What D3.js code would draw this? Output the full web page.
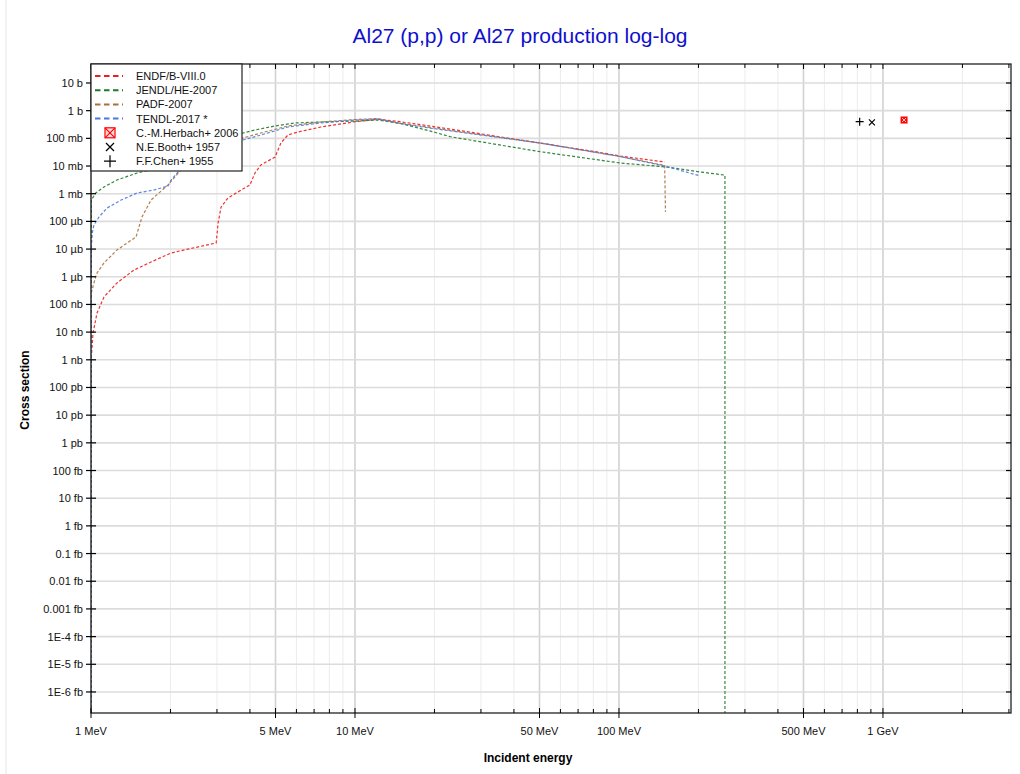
<!DOCTYPE html>
<html><head><meta charset="utf-8">
<script src="https://cdn.jsdelivr.net/npm/d3@7"></script>
<style>body{margin:0;background:#fff;} text{font-family:Arial,"Liberation Sans",sans-serif;}</style>
</head><body><svg id="c" width="1020" height="774"></svg>
<script>
const title = "Al27 (p,p) or Al27 production log-log";
const xTitle = "Incident energy";
const yTitle = "Cross section";
const xTickValues = [1,5,10,50,100,500,1000];
const xTickLabels = ["1 MeV","5 MeV","10 MeV","50 MeV","100 MeV","500 MeV","1 GeV"];
const yTickExponents = [1,0,-1,-2,-3,-4,-5,-6,-7,-8,-9,-10,-11,-12,-13,-14,-15,-16,-17,-18,-19,-20,-21];
const yTickLabels = ["10 b","1 b","100 mb","10 mb","1 mb","100 µb","10 µb","1 µb","100 nb","10 nb","1 nb","100 pb","10 pb","1 pb","100 fb","10 fb","1 fb","0.1 fb","0.01 fb","0.001 fb","1E-4 fb","1E-5 fb","1E-6 fb"];

// [energy MeV, cross section b]  (0 = below axis / threshold)
const endf = [[1.0,0],[1.003,1.26e-9],[1.018,9.3e-9],[1.054,4.9e-8],[1.12,1.86e-7],[1.254,5.96e-7],[1.455,1.75e-6],[1.687,3.4e-6],[2.01,7.2e-6],[2.33,1.0e-5],[2.98,1.66e-5],[3.03,8.7e-5],[3.11,3.3e-4],[3.30,7.0e-4],[3.60,1.15e-3],[4.0,2.07e-3],[4.18,5.6e-3],[4.40,0.0109],[4.98,0.0212],[5.24,0.068],[5.57,0.132],[6.08,0.170],[7.43,0.257],[10,0.40],[12.2,0.49],[14.8,0.40],[19.7,0.27],[50.2,0.068],[84.7,0.031],[100.9,0.023],[149,0.014]];
const jendl = [[1.0,0],[1.003,5.9e-4],[1.042,1.06e-3],[1.12,1.75e-3],[1.254,3.13e-3],[1.494,5.6e-3],[1.673,7.2e-3],[2.0,0.011],[2.5,0.035],[3.0,0.075],[3.76,0.156],[4.18,0.20],[4.98,0.28],[5.93,0.359],[7.43,0.39],[10,0.42],[12.2,0.46],[14.8,0.35],[19.7,0.174],[22.9,0.115],[50.2,0.033],[100.9,0.0129],[152,9.2e-3],[203,6.1e-3],[252,4.7e-3],[252,0]];
const padf = [[1.0,0],[1.003,2.6e-7],[1.026,6.0e-7],[1.054,1.37e-6],[1.12,3.14e-6],[1.254,9.3e-6],[1.481,2.73e-5],[1.52,6.3e-5],[1.56,1.44e-4],[1.687,5.9e-4],[1.957,2.07e-3],[2.19,7.2e-3],[2.6,0.025],[3.1,0.055],[3.76,0.103],[4.40,0.156],[5.57,0.28],[7.43,0.39],[10,0.48],[12.2,0.52],[14.8,0.35],[19.7,0.24],[50.2,0.068],[100.9,0.0221],[149,0.0105],[150,2.2e-4]];
const tendl = [[1.0,0],[1.003,1.19e-5],[1.011,3.8e-5],[1.026,7.4e-5],[1.072,1.44e-4],[1.15,3.05e-4],[1.30,5.9e-4],[1.494,1.06e-3],[1.733,1.36e-3],[1.957,1.9e-3],[2.01,3.1e-3],[2.136,6.1e-3],[2.6,0.02],[3.1,0.045],[3.76,0.087],[4.40,0.132],[5.57,0.257],[7.43,0.359],[10,0.46],[12.2,0.50],[14.8,0.344],[19.7,0.227],[50.2,0.068],[100.9,0.0221],[149,0.0100],[203,4.4e-3]];
const herbach = [[1202,0.46]];
const booth = [[908,0.38]];
const chen = [[816,0.40]];

const seriesNames = ["ENDF/B-VIII.0","JENDL/HE-2007","PADF-2007","TENDL-2017 *"];
const seriesColors = ["#ee1c1c","#1e7a2a","#a6733f","#4a78e0"];
const pointNames = ["C.-M.Herbach+ 2006","N.E.Booth+ 1957","F.F.Chen+ 1955"];

const svg = d3.select("#c");
const L=91, T=64, R=1011, B=713;
const x = d3.scaleLog().domain([1, Math.pow(10,3.485)]).range([L,R]);
const y = d3.scaleLog().domain([Math.pow(10,-21.76), Math.pow(10,1.686)]).range([B,T]);
const yy = v => v>0 ? y(v) : B+20;

svg.append("rect").attr("x",6).attr("y",-2).attr("width",1030).attr("height",780).attr("fill","#fff").attr("stroke","#e6e6e6");

// grid
const minorX = [];
[1,10,100,1000].forEach(d=>{for(let k=1;k<10;k++){const v=d*k; if(v<=x.domain()[1]) minorX.push(v);}});
const g = svg.append("g");
minorX.forEach(v=>{
  const major = xTickValues.includes(v);
  g.append("line").attr("x1",x(v)).attr("x2",x(v)).attr("y1",T).attr("y2",B)
   .attr("stroke", major ? "#d2d2d2" : "#ececec").attr("stroke-width", major?1.6:1);
});
yTickExponents.forEach(p=>{
  g.append("line").attr("x1",L).attr("x2",R).attr("y1",y(Math.pow(10,p))).attr("y2",y(Math.pow(10,p)))
   .attr("stroke","#dcdcdc").attr("stroke-width",1.6);
});

// curves
svg.append("clipPath").attr("id","pc").append("rect").attr("x",L).attr("y",T).attr("width",R-L).attr("height",B-T);
const line = d3.line().x(d=>x(d[0])).y(d=>yy(d[1]));
const cg = svg.append("g").attr("clip-path","url(#pc)");
[endf,jendl,padf,tendl].forEach((s,i)=>{
  cg.append("path").attr("d",line(s)).attr("fill","none").attr("stroke",seriesColors[i])
    .attr("stroke-width",1.2).attr("stroke-dasharray","3,2").attr("opacity",0.9);
});
// points
herbach.forEach(d=>{
  const cx=x(d[0]), cy=y(d[1]);
  cg.append("rect").attr("x",cx-3.5).attr("y",cy-3.5).attr("width",7).attr("height",7).attr("fill","#f00");
  cg.append("path").attr("d",`M${cx-2},${cy-2}L${cx+2},${cy+2}M${cx-2},${cy+2}L${cx+2},${cy-2}`).attr("stroke","#fcc").attr("stroke-width",1);
});
booth.forEach(d=>{
  const cx=x(d[0]), cy=y(d[1]);
  cg.append("path").attr("d",`M${cx-3},${cy-3}L${cx+3},${cy+3}M${cx-3},${cy+3}L${cx+3},${cy-3}`).attr("stroke","#000").attr("stroke-width",1.2);
});
chen.forEach(d=>{
  const cx=x(d[0]), cy=y(d[1]);
  cg.append("path").attr("d",`M${cx-4},${cy}L${cx+4},${cy}M${cx},${cy-4}L${cx},${cy+4}`).attr("stroke","#000").attr("stroke-width",1.2);
});

// frame + ticks
const ax = svg.append("g").attr("stroke","#000");
ax.append("rect").attr("x",L).attr("y",T).attr("width",R-L).attr("height",B-T).attr("fill","none").attr("stroke","#222").attr("stroke-width",1.3);
minorX.forEach(v=>{
  const major = xTickValues.includes(v);
  const xp = x(v);
  ax.append("line").attr("x1",xp).attr("x2",xp).attr("y1",B+(major?5:0)).attr("y2",B-(major?5:4)).attr("stroke-width",1);
  ax.append("line").attr("x1",xp).attr("x2",xp).attr("y1",T).attr("y2",T+(major?5:4)).attr("stroke-width",1);
});
yTickExponents.forEach(p=>{
  const yp = y(Math.pow(10,p));
  ax.append("line").attr("x1",L-5).attr("x2",L+5).attr("y1",yp).attr("y2",yp).attr("stroke-width",1.2);
  ax.append("line").attr("x1",R-5).attr("x2",R).attr("y1",yp).attr("y2",yp).attr("stroke-width",1.2);
});
// labels
xTickValues.forEach((v,i)=>{
  svg.append("text").attr("x",x(v)).attr("y",735).attr("text-anchor","middle").attr("font-size",11).attr("fill","#111").text(xTickLabels[i]);
});
yTickExponents.forEach((p,i)=>{
  svg.append("text").attr("x",83).attr("y",y(Math.pow(10,p))+4).attr("text-anchor","end").attr("font-size",11).attr("fill","#111").text(yTickLabels[i]);
});
svg.append("text").attr("x",528).attr("y",762).attr("text-anchor","middle").attr("font-size",12).attr("font-weight","bold").text(xTitle);
svg.append("text").attr("transform","translate(29,390) rotate(-90)").attr("text-anchor","middle").attr("font-size",12).attr("font-weight","bold").text(yTitle);
svg.append("text").attr("x",520).attr("y",43).attr("text-anchor","middle").attr("font-size",21).attr("fill","#1010cc").text(title);

// legend
const lg = svg.append("g");
lg.append("rect").attr("x",L).attr("y",T).attr("width",151).attr("height",107).attr("fill","#fff").attr("stroke","#222").attr("stroke-width",1.2);
const rowY = i => 76 + i*14.2;
seriesNames.forEach((n,i)=>{
  lg.append("line").attr("x1",95).attr("x2",123).attr("y1",rowY(i)).attr("y2",rowY(i)).attr("stroke",seriesColors[i]).attr("stroke-width",2).attr("stroke-dasharray","5.5,3.5");
  lg.append("text").attr("x",136).attr("y",rowY(i)+4).attr("font-size",11).attr("fill","#111").text(n);
});
pointNames.forEach((n,j)=>{
  const i=j+4, cy=rowY(i), cx=110;
  lg.append("text").attr("x",136).attr("y",cy+4).attr("font-size",11).attr("fill","#111").text(n);
  if(j===0){
    lg.append("rect").attr("x",cx-5).attr("y",cy-5).attr("width",10).attr("height",10).attr("fill","#fdd").attr("stroke","#f00").attr("stroke-width",1.2);
    lg.append("path").attr("d",`M${cx-5},${cy-5}L${cx+5},${cy+5}M${cx-5},${cy+5}L${cx+5},${cy-5}`).attr("stroke","#f00").attr("stroke-width",1.2);
  } else if(j===1){
    lg.append("path").attr("d",`M${cx-4},${cy-4}L${cx+4},${cy+4}M${cx-4},${cy+4}L${cx+4},${cy-4}`).attr("stroke","#000").attr("stroke-width",1.2);
  } else {
    lg.append("path").attr("d",`M${cx-6},${cy}L${cx+6},${cy}M${cx},${cy-6}L${cx},${cy+6}`).attr("stroke","#000").attr("stroke-width",1.2);
  }
});
</script></body></html>
